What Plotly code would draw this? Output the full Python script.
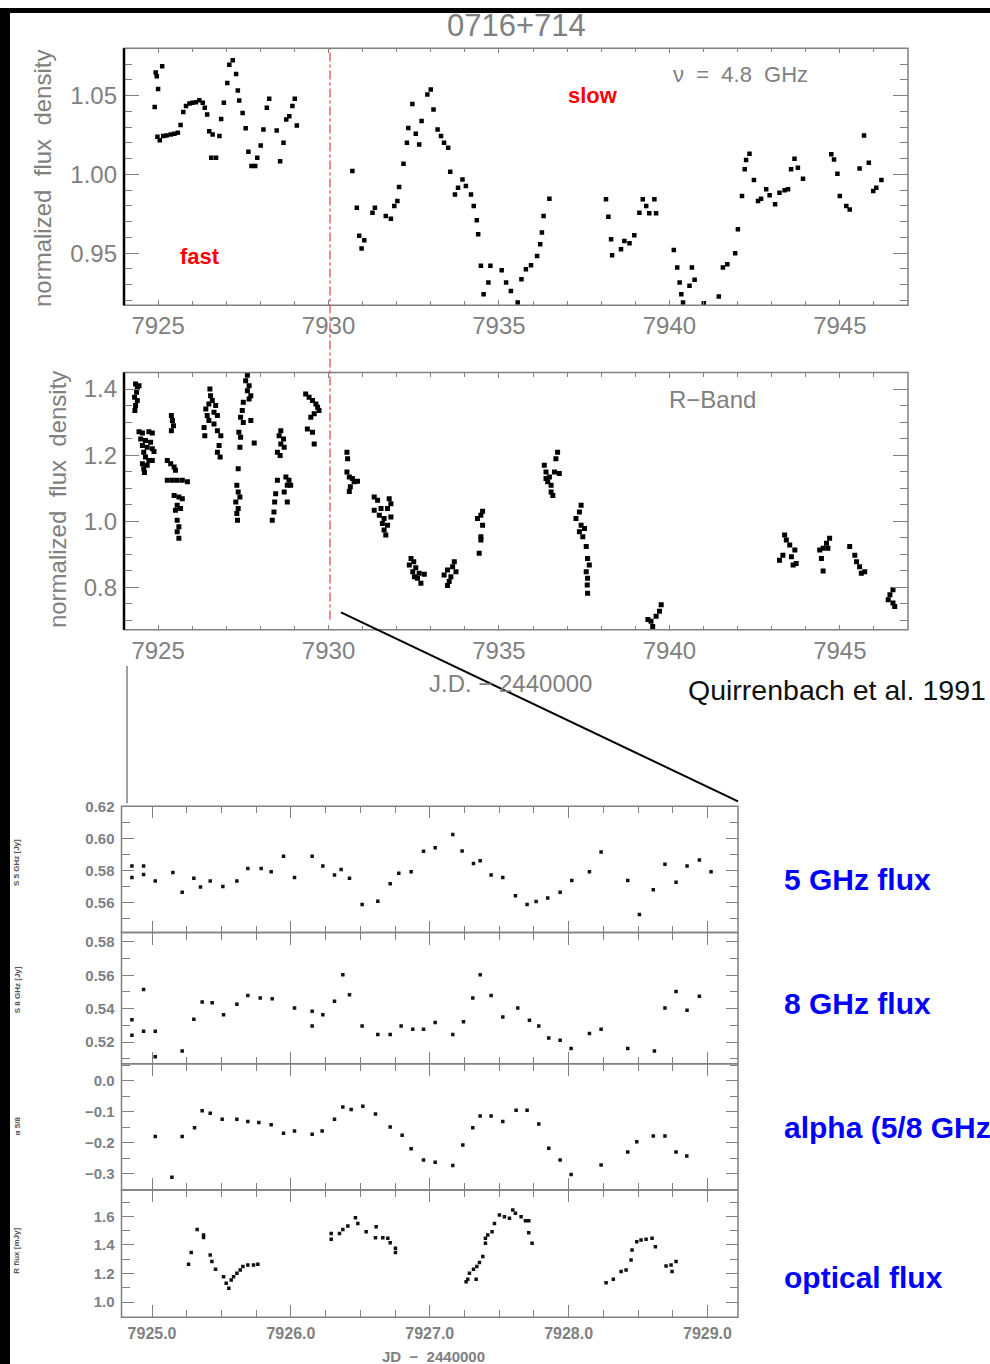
import plotly.graph_objects as go

# ---------------- data: 4.8 GHz radio (top panel) ----------------
jd_48_fast = [7924.93, 7925.12, 7924.96, 7925.00, 7924.90, 7924.98, 7925.05, 7925.15, 7925.25, 7925.37,
              7925.48, 7925.58, 7925.66, 7925.74, 7925.82, 7925.92, 7926.01, 7926.11, 7926.21, 7926.31,
              7926.37, 7926.44, 7926.50, 7926.60, 7926.56, 7926.70, 7926.80, 7926.85, 7926.93, 7927.03,
              7927.09, 7927.19, 7927.29, 7927.34, 7927.38, 7927.48, 7927.57, 7927.65, 7927.74, 7927.85,
              7927.91, 7928.01, 7928.09, 7928.19, 7928.26, 7928.48, 7928.58, 7928.68, 7928.76, 7928.85,
              7928.94, 7929.01, 7929.07]
s_48_fast = [1.0646, 1.0686, 1.0622, 1.0542, 1.0428, 1.0238, 1.0217, 1.0243, 1.0247, 1.0253,
             1.0257, 1.0264, 1.0314, 1.0395, 1.0433, 1.0449, 1.0454, 1.0458, 1.0471, 1.0454,
             1.0422, 1.0380, 1.0274, 1.0253, 1.0106, 1.0106, 1.0243, 1.0352, 1.0454, 1.0580,
             1.0696, 1.0724, 1.0637, 1.0532, 1.0468, 1.0390, 1.0293, 1.0143, 1.0053, 1.0053,
             1.0106, 1.0184, 1.0285, 1.0422, 1.0479, 1.0279, 1.0084, 1.0200, 1.0348, 1.0369,
             1.0433, 1.0479, 1.0310]
jd_48_slow = [7930.70, 7930.83, 7930.90, 7931.05, 7930.97, 7931.29, 7931.36, 7931.68, 7931.83, 7931.93,
              7932.02, 7932.07, 7932.20, 7932.30, 7932.34, 7932.46, 7932.56, 7932.66, 7932.73, 7932.90,
              7933.00, 7933.08, 7933.20, 7933.30, 7933.39, 7933.51, 7933.57, 7933.71, 7933.80, 7933.93,
              7934.03, 7934.18, 7934.26, 7934.35, 7934.39, 7934.47, 7934.69, 7934.55, 7934.75,
              7935.08, 7935.21, 7935.35, 7935.55, 7935.66, 7935.79, 7935.94, 7936.12, 7936.21, 7936.26,
              7936.31, 7936.48,
              7938.14, 7938.21, 7938.29, 7938.32, 7938.58, 7938.68, 7938.83, 7938.97, 7939.12, 7939.22,
              7939.32, 7939.41, 7939.56, 7939.61,
              7940.13, 7940.23, 7940.30, 7940.35, 7940.40, 7940.59, 7940.66, 7940.74, 7941.01, 7941.45,
              7941.57, 7941.70, 7941.93, 7942.01, 7942.13, 7942.21, 7942.25, 7942.35, 7942.48, 7942.60,
              7942.69, 7942.84, 7942.94, 7943.10, 7943.23, 7943.38, 7943.48, 7943.57, 7943.67, 7943.77,
              7943.92,
              7944.75, 7944.83, 7944.93, 7945.00, 7945.19, 7945.29, 7945.58, 7945.71, 7945.85, 7945.98,
              7946.07, 7946.22]
s_48_slow = [1.0021, 0.9789, 0.9610, 0.9582, 0.9530, 0.9757, 0.9789, 0.9736, 0.9719, 0.9800,
             0.9831, 0.9920, 1.0068, 1.0200, 1.0295, 1.0447, 1.0257, 1.0190, 1.0338, 1.0506,
             1.0538, 1.0411, 1.0285, 1.0243, 1.0200, 1.0169, 1.0017, 0.9873, 0.9916, 0.9968,
             0.9926, 0.9873, 0.9800, 0.9709, 0.9620, 0.9420, 0.9314, 0.9240, 0.9420,
             0.9392, 0.9314, 0.9261, 0.9188, 0.9335, 0.9399, 0.9424, 0.9483, 0.9557, 0.9631,
             0.9736, 0.9846,
             0.9842, 0.9732, 0.9589, 0.9487, 0.9525, 0.9578, 0.9563, 0.9614, 0.9757, 0.9842,
             0.9800, 0.9753, 0.9842, 0.9753,
             0.9521, 0.9409, 0.9314, 0.9240, 0.9188, 0.9293, 0.9409, 0.9331, 0.9183, 0.9226,
             0.9409, 0.9430, 0.9500, 0.9652, 0.9863, 1.0032, 1.0091, 1.0131, 0.9964, 0.9831,
             0.9846, 0.9905, 0.9867, 0.9810, 0.9884, 0.9899, 0.9905, 1.0032, 1.0099, 1.0042,
             0.9973,
             1.0127, 1.0095, 1.0004, 0.9863, 0.9800, 0.9778, 1.0038, 1.0247, 1.0074, 0.9895,
             0.9916, 0.9964]

# ---------------- data: R-band optical (middle panel) ----------------
jd_R = [7924.34, 7924.39, 7924.37, 7924.31, 7924.39, 7924.34, 7924.32, 7924.44,
        7924.44, 7924.54, 7924.73, 7924.83, 7924.49, 7924.63, 7924.78, 7924.54, 7924.68, 7924.83,
        7924.58, 7924.88, 7924.63, 7924.73, 7924.83, 7924.54, 7924.68, 7924.58, 7924.60,
        7925.39, 7925.42, 7925.45, 7925.39,
        7925.27, 7925.37, 7925.47, 7925.51, 7925.27, 7925.42, 7925.56, 7925.71, 7925.86, 7925.47,
        7925.61, 7925.71, 7925.56, 7925.66, 7925.51, 7925.56, 7925.61, 7925.56, 7925.61,
        7926.52, 7926.54, 7926.59, 7926.49, 7926.69, 7926.40, 7926.64, 7926.44, 7926.74, 7926.49,
        7926.64, 7926.35, 7926.74, 7926.37, 7926.84, 7926.79, 7926.74, 7926.82,
        7927.62, 7927.57, 7927.67, 7927.62, 7927.72, 7927.67, 7927.50, 7927.47, 7927.42, 7927.72,
        7927.50, 7927.37, 7927.42, 7927.82, 7927.40, 7927.35, 7927.31, 7927.35, 7927.40, 7927.28,
        7927.35, 7927.31, 7927.33,
        7928.60, 7928.55, 7928.68, 7928.60, 7928.70, 7928.50, 7928.58, 7928.75, 7928.84, 7928.50,
        7928.79, 7928.89, 7928.45, 7928.70, 7928.42, 7928.79, 7928.40, 7928.35,
        7929.33, 7929.43, 7929.53, 7929.63, 7929.68, 7929.72, 7929.58, 7929.48, 7929.38, 7929.53,
        7929.58,
        7930.54, 7930.56, 7930.54, 7930.61, 7930.70, 7930.75, 7930.85, 7930.64, 7930.61,
        7931.34, 7931.44, 7931.78, 7931.83, 7931.34, 7931.54, 7931.73, 7931.49, 7931.63, 7931.83,
        7931.58, 7931.73, 7931.63, 7931.68,
        7932.42, 7932.50, 7932.37, 7932.56, 7932.47, 7932.66, 7932.81, 7932.61, 7932.71, 7932.52,
        7933.69, 7933.64, 7933.49, 7933.74, 7933.39, 7933.59, 7933.54, 7933.49,
        7934.52, 7934.47, 7934.37, 7934.52, 7934.47, 7934.47, 7934.42,
        7936.72, 7936.67, 7936.77, 7936.63, 7936.33, 7936.38, 7936.48, 7936.43, 7936.53, 7936.53,
        7936.58, 7936.38,
        7937.41, 7937.36, 7937.26, 7937.41, 7937.51, 7937.36, 7937.46, 7937.56, 7937.60, 7937.65,
        7937.56, 7937.60, 7937.59, 7937.60,
        7939.76, 7939.71, 7939.61, 7939.46, 7939.37, 7939.51,
        7943.38, 7943.43, 7943.53, 7943.68, 7943.33, 7943.58, 7943.23, 7943.72, 7943.63,
        7944.70, 7944.61, 7944.51, 7944.41, 7944.65, 7944.46, 7944.51,
        7945.29, 7945.44, 7945.49, 7945.58, 7945.73, 7945.63,
        7946.56, 7946.47, 7946.42, 7946.56, 7946.61]
s_R = [1.415, 1.405, 1.390, 1.375, 1.365, 1.350, 1.335, 1.410,
       1.271, 1.267, 1.271, 1.267, 1.249, 1.244, 1.239, 1.229, 1.224, 1.219,
       1.209, 1.211, 1.194, 1.184, 1.184, 1.174, 1.169, 1.159, 1.147,
       1.320, 1.305, 1.289, 1.274,
       1.184, 1.174, 1.164, 1.154, 1.124, 1.124, 1.124, 1.124, 1.119, 1.078,
       1.073, 1.068, 1.048, 1.038, 1.033, 1.003, 0.983, 0.968, 0.948,
       1.400, 1.380, 1.365, 1.355, 1.350, 1.340, 1.330, 1.320, 1.320, 1.305,
       1.294, 1.284, 1.274, 1.259, 1.259, 1.229, 1.209, 1.194,
       1.442, 1.425, 1.410, 1.395, 1.380, 1.370, 1.360, 1.335, 1.315, 1.305,
       1.299, 1.269, 1.254, 1.237, 1.224, 1.159, 1.109, 1.088, 1.073, 1.058,
       1.038, 1.023, 1.003,
       1.274, 1.259, 1.249, 1.234, 1.224, 1.209, 1.199, 1.134, 1.124, 1.124,
       1.109, 1.109, 1.083, 1.088, 1.058, 1.058, 1.028, 1.003,
       1.385, 1.375, 1.365, 1.355, 1.345, 1.335, 1.325, 1.315, 1.279, 1.269,
       1.234,
       1.209, 1.189, 1.149, 1.134, 1.129, 1.119, 1.121, 1.104, 1.090,
       1.073, 1.063, 1.068, 1.053, 1.033, 1.038, 1.038, 1.018, 1.008, 1.013,
       0.993, 0.988, 0.973, 0.958,
       0.887, 0.877, 0.867, 0.859, 0.847, 0.842, 0.839, 0.827, 0.812, 0.832,
       0.877, 0.862, 0.852, 0.847, 0.837, 0.832, 0.817, 0.805,
       1.030, 1.018, 1.008, 0.988, 0.953, 0.943, 0.903,
       1.209, 1.189, 1.144, 1.149, 1.169, 1.149, 1.134, 1.119, 1.109, 1.088,
       1.078, 1.129,
       1.048, 1.028, 1.008, 0.988, 0.978, 0.968, 0.953, 0.923, 0.887, 0.867,
       0.847, 0.827, 0.807, 0.782,
       0.747, 0.727, 0.712, 0.697, 0.702, 0.681,
       0.958, 0.943, 0.928, 0.913, 0.897, 0.892, 0.882, 0.872, 0.867,
       0.948, 0.933, 0.918, 0.913, 0.918, 0.887, 0.849,
       0.923, 0.897, 0.877, 0.862, 0.847, 0.842,
       0.792, 0.777, 0.762, 0.752, 0.742]

# ---------------- data: zoomed panels (JD 7925 - 7929) ----------------
jd_5 = [7924.855, 7924.855, 7924.939, 7924.939, 7925.023, 7925.150, 7925.217, 7925.301, 7925.349, 7925.419,
        7925.510, 7925.611, 7925.690, 7925.786, 7925.858, 7925.947, 7926.026, 7926.153, 7926.230, 7926.314,
        7926.362, 7926.422, 7926.513, 7926.626, 7926.715, 7926.777, 7926.866, 7926.955, 7927.039, 7927.166,
        7927.233, 7927.315, 7927.363, 7927.442, 7927.526, 7927.617, 7927.701, 7927.766, 7927.850, 7927.939,
        7928.023, 7928.150, 7928.234, 7928.426, 7928.510, 7928.610, 7928.694, 7928.774, 7928.853, 7928.942,
        7929.026]
s_5 = [0.5829, 0.5757, 0.5829, 0.5777, 0.5736, 0.5788, 0.5665, 0.5753, 0.5698, 0.5736,
       0.5702, 0.5736, 0.5814, 0.5814, 0.5794, 0.5890, 0.5757, 0.5890, 0.5829, 0.5773,
       0.5808, 0.5753, 0.5589, 0.5609, 0.5718, 0.5784, 0.5794, 0.5921, 0.5944, 0.6026,
       0.5923, 0.5845, 0.5862, 0.5773, 0.5757, 0.5644, 0.5589, 0.5607, 0.5630, 0.5665,
       0.5739, 0.5794, 0.5917, 0.5739, 0.5527, 0.5681, 0.5841, 0.5728, 0.5829, 0.5866,
       0.5794]

jd_8 = [7924.855, 7924.855, 7924.939, 7924.939, 7925.023, 7925.023, 7925.217, 7925.301, 7925.361, 7925.433,
        7925.515, 7925.611, 7925.690, 7925.779, 7925.865, 7926.026, 7926.153, 7926.153, 7926.230, 7926.314,
        7926.374, 7926.422, 7926.513, 7926.626, 7926.715, 7926.794, 7926.878, 7926.955, 7927.039, 7927.166,
        7927.243, 7927.310, 7927.363, 7927.442, 7927.526, 7927.634, 7927.718, 7927.785, 7927.857, 7927.939,
        7928.018, 7928.150, 7928.234, 7928.426, 7928.618, 7928.694, 7928.774, 7928.853, 7928.942]
s_8 = [0.5334, 0.5241, 0.5515, 0.5265, 0.5265, 0.5112, 0.5146, 0.5336, 0.5440, 0.5436,
       0.5364, 0.5426, 0.5479, 0.5464, 0.5460, 0.5404, 0.5384, 0.5297, 0.5364, 0.5444,
       0.5603, 0.5483, 0.5297, 0.5245, 0.5245, 0.5297, 0.5277, 0.5277, 0.5317, 0.5245,
       0.5321, 0.5464, 0.5603, 0.5479, 0.5350, 0.5404, 0.5330, 0.5297, 0.5225, 0.5211,
       0.5162, 0.5251, 0.5277, 0.5162, 0.5146, 0.5404, 0.5503, 0.5390, 0.5475]

jd_alpha = [7925.023, 7925.143, 7925.217, 7925.306, 7925.361, 7925.419, 7925.505, 7925.611, 7925.690, 7925.769,
            7925.858, 7925.947, 7926.026, 7926.153, 7926.225, 7926.314, 7926.374, 7926.434, 7926.518, 7926.609,
            7926.715, 7926.801, 7926.866, 7926.955, 7927.039, 7927.166, 7927.238, 7927.310, 7927.363, 7927.442,
            7927.526, 7927.622, 7927.701, 7927.785, 7927.857, 7927.939, 7928.018, 7928.234, 7928.426, 7928.491,
            7928.610, 7928.694, 7928.774, 7928.851]
alpha = [-0.1802, -0.3115, -0.1802, -0.1521, -0.0969, -0.1052, -0.1240, -0.1240, -0.1313, -0.1344,
         -0.1417, -0.1698, -0.1625, -0.1729, -0.1625, -0.1240, -0.0844, -0.0927, -0.0823, -0.1073,
         -0.1490, -0.1760, -0.2198, -0.2563, -0.2635, -0.2740, -0.2073, -0.1521, -0.1135, -0.1135,
         -0.1313, -0.0948, -0.0948, -0.1396, -0.2177, -0.2563, -0.3031, -0.2719, -0.2302, -0.1969,
         -0.1781, -0.1781, -0.2302, -0.2427]

jd_opt = [7925.263, 7925.282, 7925.325, 7925.371, 7925.371, 7925.419, 7925.431, 7925.457, 7925.515, 7925.534,
          7925.553, 7925.570, 7925.587, 7925.611, 7925.635, 7925.654, 7925.690, 7925.731, 7925.762,
          7926.290, 7926.290, 7926.350, 7926.374, 7926.410, 7926.465, 7926.482, 7926.542, 7926.614, 7926.609,
          7926.662, 7926.698, 7926.715, 7926.753, 7926.753,
          7927.262, 7927.274, 7927.286, 7927.315, 7927.334, 7927.339, 7927.358, 7927.382, 7927.401, 7927.401,
          7927.418, 7927.449, 7927.466, 7927.502, 7927.538, 7927.574, 7927.598, 7927.617, 7927.658, 7927.689,
          7927.713, 7927.713, 7927.737,
          7928.270, 7928.322, 7928.378, 7928.414, 7928.450, 7928.457, 7928.491, 7928.522, 7928.558, 7928.601,
          7928.625, 7928.702, 7928.738, 7928.774, 7928.745]
s_opt = [1.265, 1.347, 1.509, 1.470, 1.453, 1.330, 1.284, 1.230, 1.179, 1.133,
         1.098, 1.156, 1.179, 1.202, 1.226, 1.249, 1.260, 1.260, 1.265,
         1.440, 1.481, 1.481, 1.509, 1.533, 1.591, 1.551, 1.493, 1.528, 1.451,
         1.451, 1.447, 1.416, 1.377, 1.347,
         1.144, 1.160, 1.202, 1.230, 1.160, 1.249, 1.277, 1.319, 1.412, 1.447,
         1.470, 1.493, 1.551, 1.609, 1.598, 1.586, 1.644, 1.621, 1.598, 1.570,
         1.570, 1.486, 1.412,
         1.137, 1.160, 1.214, 1.226, 1.295, 1.365, 1.423, 1.435, 1.440, 1.447,
         1.388, 1.253, 1.260, 1.284, 1.214]

panel_labels = ["5 GHz flux", "8 GHz flux", "alpha (5/8 GHz)", "optical flux"]
small_ytitles = ["S 5 GHz [Jy]", "S 8 GHz [Jy]", "α 5/8", "R flux [mJy]"]

# ---------------- figure ----------------
W, H = 990, 1364
GRAY = "#808080"
FONT = "Liberation Sans"


def px(x):
    return x / W


def py(y):
    return 1 - y / H


fig = go.Figure()
mk_top = dict(symbol="square", size=4.5, color="black", line=dict(width=0))
mk_mid = dict(symbol="square", size=5, color="black", line=dict(width=0))
mk_bot = dict(symbol="square", size=3.5, color="#111111", line=dict(width=0))

fig.add_trace(go.Scatter(x=jd_48_fast + jd_48_slow, y=s_48_fast + s_48_slow, mode="markers",
                         marker=mk_top, xaxis="x", yaxis="y", showlegend=False))
fig.add_trace(go.Scatter(x=jd_R, y=s_R, mode="markers", marker=mk_mid,
                         xaxis="x2", yaxis="y2", showlegend=False))
fig.add_trace(go.Scatter(x=jd_5, y=s_5, mode="markers", marker=mk_bot,
                         xaxis="x3", yaxis="y3", showlegend=False))
fig.add_trace(go.Scatter(x=jd_8, y=s_8, mode="markers", marker=mk_bot,
                         xaxis="x4", yaxis="y4", showlegend=False))
fig.add_trace(go.Scatter(x=jd_alpha, y=alpha, mode="markers", marker=mk_bot,
                         xaxis="x5", yaxis="y5", showlegend=False))
fig.add_trace(go.Scatter(x=jd_opt, y=s_opt, mode="markers", marker=mk_bot,
                         xaxis="x6", yaxis="y6", showlegend=False))


def axis(domain, anchor, rng, dtick, tick0, mdtick, tl, mtl, fmt, labels, fsize, standoff, bold=False):
    return dict(domain=domain, anchor=anchor, range=rng, tickmode="linear", dtick=dtick, tick0=tick0,
                ticks="inside", ticklen=tl, tickwidth=1.2, tickcolor=GRAY, mirror="ticks",
                showline=False, showgrid=False, zeroline=False, tickformat=fmt,
                showticklabels=labels, ticklabelstandoff=standoff,
                tickfont=dict(family=FONT, size=fsize, color=GRAY, weight="bold" if bold else "normal"),
                minor=dict(dtick=mdtick, tick0=tick0, ticks="inside", ticklen=mtl, tickcolor=GRAY,
                           tickwidth=1.2, showgrid=False))


# panel geometry (pixels)
TX0, TX1 = 124, 908
T1 = (40.5, 299)
T2 = (366.7, 625.5)
BX0, BX1 = 121.5, 738
B = [(803, 930), (930, 1062), (1062, 1189), (1189, 1317)]

xdom_t = [px(TX0), px(TX1)]
xdom_b = [px(BX0), px(BX1)]

layout_axes = {}
layout_axes["xaxis"] = axis(xdom_t, "y", [7924.0, 7947.0], 5, 7925, 1, 5, 4, "d", True, 24, 4)
layout_axes["yaxis"] = axis([py(T1[1]), py(T1[0])], "x", [0.917, 1.080], 0.05, 1.0, 0.01, 15, 8, ".2f", True, 24, 6)
layout_axes["xaxis2"] = axis(xdom_t, "y2", [7924.0, 7947.0], 5, 7925, 1, 5, 4, "d", True, 24, 4)
layout_axes["yaxis2"] = axis([py(T2[1]), py(T2[0])], "x2", [0.671, 1.450], 0.2, 0.8, 0.05, 15, 8, ".1f", True, 24, 6)

yspecs = [([0.5414, 0.6202], 0.02, 0.56, 0.01, ".2f"),
          ([0.507, 0.5856], 0.02, 0.52, 0.01, ".2f"),
          ([-0.353, 0.055], 0.1, 0.0, 0.05, ".1f"),
          ([0.895, 1.784], 0.2, 1.0, 0.1, ".1f")]
for i, ((y0, y1), (rng, dt, t0, mdt, fmt)) in enumerate(zip(B, yspecs)):
    n = i + 3
    layout_axes[f"xaxis{n}"] = axis(xdom_b, f"y{n}", [7924.78, 7929.22], 1, 7925, 0.25, 12, 7, ".1f",
                                    n == 6, 16, 5, bold=True)
    layout_axes[f"yaxis{n}"] = axis([py(y1), py(y0)], f"x{n}", rng, dt, t0, mdt, 12, 8, fmt,
                                    True, 15, 6, bold=True)

fig.update_layout(**layout_axes)

shapes = []
# panel frames
for (x0, x1), (y0, y1) in [((TX0, TX1), T1), ((TX0, TX1), T2)] + [((BX0, BX1), b) for b in B]:
    shapes.append(dict(type="rect", xref="paper", yref="paper", x0=px(x0), x1=px(x1), y0=py(y1), y1=py(y0),
                       line=dict(color=GRAY, width=1.5), layer="above"))
# black left spines of top panels
for (y0, y1) in [T1, T2]:
    shapes.append(dict(type="line", xref="paper", yref="paper", x0=px(TX0), x1=px(TX0), y0=py(y1), y1=py(y0),
                       line=dict(color="black", width=2.5)))
# red dash-dot divider fast/slow
shapes.append(dict(type="line", xref="paper", yref="paper", x0=px(330), x1=px(330), y0=py(615), y1=py(41),
                   line=dict(color="rgba(235,60,60,0.8)", width=1.5, dash="dashdot")))
# zoom connector lines
shapes.append(dict(type="line", xref="paper", yref="paper", x0=px(341), x1=px(738), y0=py(608), y1=py(798),
                   line=dict(color="black", width=2)))
shapes.append(dict(type="line", xref="paper", yref="paper", x0=px(127), x1=px(127), y0=py(662), y1=py(800),
                   line=dict(color=GRAY, width=1.5)))
# black border strips
shapes.append(dict(type="rect", xref="paper", yref="paper", x0=0, x1=1, y0=py(5), y1=1,
                   fillcolor="black", line=dict(width=0)))
shapes.append(dict(type="rect", xref="paper", yref="paper", x0=0, x1=px(10), y0=0, y1=1,
                   fillcolor="black", line=dict(width=0)))

ann = []


def text(x, y, s, size, color, xanchor="center", bold=False, angle=0, family=FONT):
    ann.append(dict(x=px(x), y=py(y), xref="paper", yref="paper", text=s, showarrow=False,
                    xanchor=xanchor, yanchor="middle", textangle=angle,
                    font=dict(family=family, size=size, color=color, weight="bold" if bold else "normal")))


text(516, 18, "0716+714", 31, GRAY)
text(740, 67, "ν  =  4.8  GHz", 22, GRAY)
text(593, 88, "slow", 22, "#ff0000", bold=True)
text(200, 250, "fast", 22, "#ff0000", bold=True)
text(712, 394, "R−Band", 24, GRAY)
text(510, 679, "J.D. − 2440000", 24, GRAY)
text(686, 686, "Quirrenbach et al. 1991", 28.5, "#111111", xanchor="left")
text(43, 172, "normalized  flux  density", 24, GRAY, angle=-90)
text(57, 495, "normalized  flux  density", 24, GRAY, angle=-90)
for lab, yy in zip(panel_labels, [877, 1001, 1126, 1277]):
    text(782, yy, lab, 30, "#0000ff", xanchor="left", bold=True)
for lab, yy in zip(small_ytitles, [860, 988, 1125, 1250]):
    text(17, yy, lab, 8, "#555555", angle=-90, bold=True)
text(433, 1356, "JD  −  2440000", 15, GRAY, bold=True)

fig.update_layout(width=W, height=H, margin=dict(l=0, r=0, t=0, b=0),
                  paper_bgcolor="white", plot_bgcolor="white",
                  shapes=shapes, annotations=ann, showlegend=False)

fig.write_html("out.html")
